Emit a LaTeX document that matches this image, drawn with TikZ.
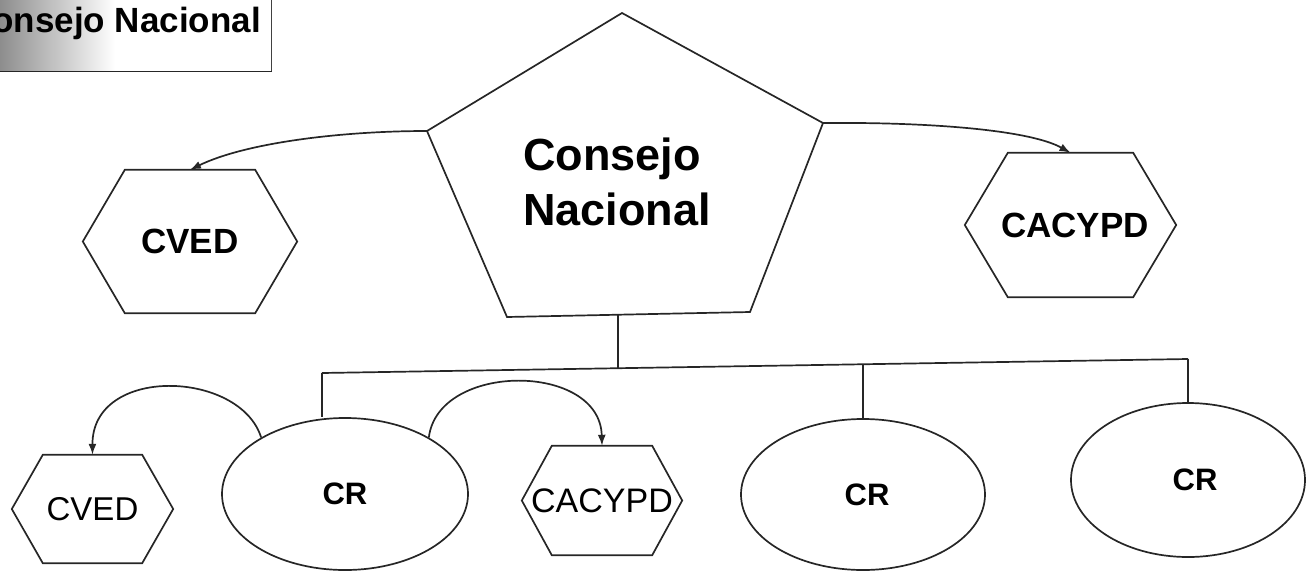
\documentclass[tikz,border=0pt]{standalone}
\usepackage{fontspec}
\setmainfont{Liberation Sans}
\usetikzlibrary{shapes.geometric,arrows.meta}
\newcommand{\hexpath}[2]{\draw[ln] (#1.west) -- ([xshift=#2]#1.north west) -- ([xshift=-#2]#1.north east) -- (#1.east) -- ([xshift=-#2]#1.south east) -- ([xshift=#2]#1.south west) -- cycle;}
\tikzset{
  ln/.style={draw=black!85, line width=1.7pt},
  arr/.style={ln, -{Latex[length=11pt,width=8pt]}},
  hexn/.style={inner sep=0pt, text=black},
  crn/.style={ln, ellipse, inner sep=0pt, font=\bfseries\fontsize{31}{36}\selectfont},
  bigb/.style={font=\bfseries\fontsize{35}{42}\selectfont},
  smallr/.style={font=\fontsize{34}{40}\selectfont},
}
\begin{document}
\begin{tikzpicture}[x=1pt,y=-1pt]
\useasboundingbox (0,0) rectangle (1307,571);
% title box
\node[ln, fill=white, anchor=south east, minimum width=380pt, minimum height=110pt, inner sep=0pt] (tbox) at (272,72) {};
\shade[left color=black!60, right color=white, middle color=white] (-40,-10) rectangle (271,70.8);
\node[bigb, anchor=base east, inner sep=0pt] (ttext) at (261,32) {Consejo Nacional};
% pentagon
\coordinate (pt) at (622,13);
\coordinate (pr) at (823,123);
\coordinate (pbr) at (750,312);
\coordinate (pbl) at (507,317);
\coordinate (pl) at (427,131);
\coordinate (pb) at (618,314.7);
\draw[ln, line join=miter] (pt) -- (pr) -- (pbr) -- (pbl) -- (pl) -- cycle;
\node[align=left, inner sep=0pt, font=\bfseries\fontsize{45}{55}\selectfont] (cn) at (617,182) {Consejo\\Nacional};
% top hexagons
\node[hexn, bigb, minimum width=214pt, minimum height=143pt] (cvedA) at (190,241.5) {CVED\hspace{16pt}};
\hexpath{cvedA}{42pt}
\node[hexn, bigb, minimum width=211pt, minimum height=144pt] (cacA) at (1070.5,225) {\hspace{9pt}CACYPD};
\hexpath{cacA}{43pt}
% bottom row
\node[hexn, font=\fontsize{33}{40}\selectfont, minimum width=161pt, minimum height=108pt] (cvedB) at (92.5,509) {CVED\hspace{15pt}};
\hexpath{cvedB}{31pt}
\node[hexn, smallr, minimum width=160pt, minimum height=109pt] (cacB) at (602,500.5) {CACYPD\hspace{10pt}};
\hexpath{cacB}{30pt}
\node[crn, minimum width=246pt, minimum height=152pt] (cr1) at (345,494) {CR\hspace{14pt}};
\node[crn, minimum width=244pt, minimum height=151pt] (cr2) at (863,494.5) {\hspace{8pt}CR};
\node[crn, minimum width=234pt, minimum height=154pt] (cr3) at (1188,480) {\hspace{14pt}CR};
% bar
\coordinate (b1) at (322,373);
\coordinate (b2) at (618,368.2);
\coordinate (b3) at (863,364.3);
\coordinate (b4) at (1188,359);
\draw[ln] (pb) -- (b2);
\draw[ln] (b1) -- (b4);
\draw[ln] (b1) -- (b1 |- cr1.north);
\draw[ln] (b3) -- (cr2.north);
\draw[ln] (b4) -- (cr3.north);
% arrows
\draw[arr] (pl) .. controls (340,131) and (245,143) .. (cvedA.north);
\draw[arr] (pr) .. controls (930,122) and (1030,130) .. (cacA.north);
\draw[arr] (cr1.146) .. controls (240,370) and (92,365) .. (cvedB.north);
\draw[arr] (cr1.34) .. controls (438,362) and (600,362) .. (cacB.north);
\end{tikzpicture}
\end{document}
